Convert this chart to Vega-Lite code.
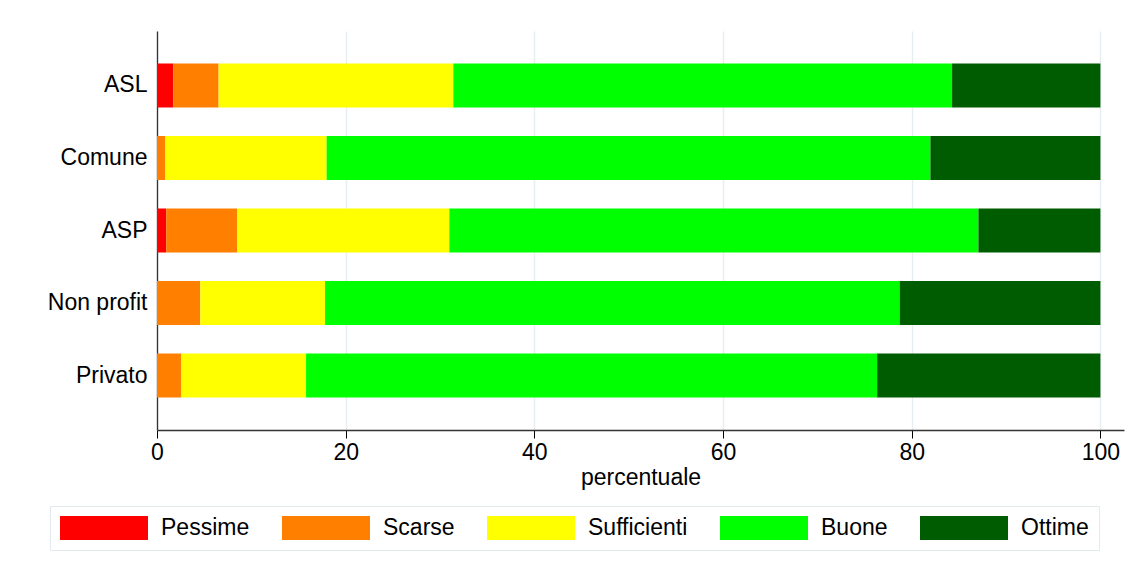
{
  "$schema": "https://vega.github.io/schema/vega-lite/v6.json",
  "width": 967,
  "height": 399,
  "autosize": "none",
  "padding": {"left": 157, "top": 31, "right": 9, "bottom": 139},
  "background": "white",
  "data": {
    "values": [
      {"group": "ASL", "giudizio": "Pessime", "livello": 1, "pct": 1.73},
      {"group": "ASL", "giudizio": "Scarse", "livello": 2, "pct": 4.80},
      {"group": "ASL", "giudizio": "Sufficienti", "livello": 3, "pct": 24.88},
      {"group": "ASL", "giudizio": "Buone", "livello": 4, "pct": 52.87},
      {"group": "ASL", "giudizio": "Ottime", "livello": 5, "pct": 15.72},
      {"group": "Comune", "giudizio": "Scarse", "livello": 2, "pct": 0.88},
      {"group": "Comune", "giudizio": "Sufficienti", "livello": 3, "pct": 17.10},
      {"group": "Comune", "giudizio": "Buone", "livello": 4, "pct": 64.00},
      {"group": "Comune", "giudizio": "Ottime", "livello": 5, "pct": 18.02},
      {"group": "ASP", "giudizio": "Pessime", "livello": 1, "pct": 0.99},
      {"group": "ASP", "giudizio": "Scarse", "livello": 2, "pct": 7.49},
      {"group": "ASP", "giudizio": "Sufficienti", "livello": 3, "pct": 22.51},
      {"group": "ASP", "giudizio": "Buone", "livello": 4, "pct": 56.08},
      {"group": "ASP", "giudizio": "Ottime", "livello": 5, "pct": 12.93},
      {"group": "Non profit", "giudizio": "Scarse", "livello": 2, "pct": 4.59},
      {"group": "Non profit", "giudizio": "Sufficienti", "livello": 3, "pct": 13.22},
      {"group": "Non profit", "giudizio": "Buone", "livello": 4, "pct": 60.91},
      {"group": "Non profit", "giudizio": "Ottime", "livello": 5, "pct": 21.28},
      {"group": "Privato", "giudizio": "Scarse", "livello": 2, "pct": 2.58},
      {"group": "Privato", "giudizio": "Sufficienti", "livello": 3, "pct": 13.22},
      {"group": "Privato", "giudizio": "Buone", "livello": 4, "pct": 60.53},
      {"group": "Privato", "giudizio": "Ottime", "livello": 5, "pct": 23.67}
    ]
  },
  "mark": {"type": "bar"},
  "encoding": {
    "y": {
      "field": "group",
      "type": "nominal",
      "sort": ["ASL", "Comune", "ASP", "Non profit", "Privato"],
      "scale": {"paddingInner": 0.393, "paddingOuter": 0.448},
      "axis": {
        "title": null,
        "ticks": false,
        "labelPadding": 10,
        "labelFontSize": 23,
        "labelFont": "Liberation Sans",
        "labelColor": "#000000",
        "domainColor": "#333333",
        "domainWidth": 1.3,
        "grid": false
      }
    },
    "x": {
      "field": "pct",
      "type": "quantitative",
      "stack": "zero",
      "scale": {"domain": [0, 102.5], "nice": false},
      "axis": {
        "values": [0, 20, 40, 60, 80, 100],
        "title": "percentuale",
        "titleFont": "Liberation Sans",
        "titleFontSize": 23,
        "titleFontWeight": "normal",
        "titleColor": "#000000",
        "titlePadding": 2,
        "labelFont": "Liberation Sans",
        "labelFontSize": 23,
        "labelColor": "#000000",
        "labelPadding": 3,
        "labelFlush": false,
        "tickSize": 8,
        "tickColor": "#000000",
        "tickWidth": 1,
        "domainColor": "#333333",
        "domainWidth": 1.3,
        "grid": true,
        "gridColor": "#E6EEF1",
        "gridWidth": 1.5
      }
    },
    "order": {"field": "livello", "type": "quantitative", "sort": "ascending"},
    "color": {
      "field": "giudizio",
      "type": "nominal",
      "sort": ["Pessime", "Scarse", "Sufficienti", "Buone", "Ottime"],
      "scale": {
        "domain": ["Pessime", "Scarse", "Sufficienti", "Buone", "Ottime"],
        "range": ["#FF0000", "#FF8000", "#FFFF00", "#00FF00", "#005C00"]
      },
      "legend": {
        "title": null,
        "orient": "none",
        "legendX": -107,
        "legendY": 475,
        "direction": "horizontal",
        "columns": 5,
        "symbolType": "M-1,-0.27H1V0.27H-1Z",
        "symbolSize": 7744,
        "symbolStrokeWidth": 0,
        "clipHeight": 24,
        "labelFontSize": 23,
        "labelFont": "Liberation Sans",
        "labelColor": "#000000",
        "labelOffset": 13,
        "labelLimit": 300,
        "columnPadding": 32,
        "padding": 10,
        "fillColor": "#FFFFFF",
        "strokeColor": "#E3EAEC"
      }
    }
  },
  "config": {
    "view": {"stroke": null}
  }
}
